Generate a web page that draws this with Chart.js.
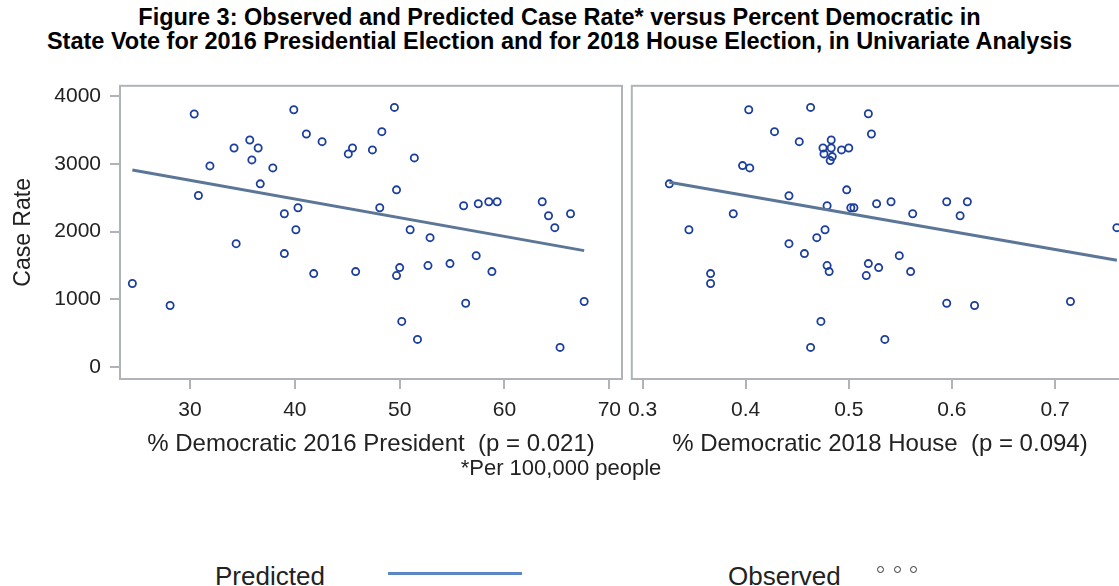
<!DOCTYPE html>
<html>
<head>
<meta charset="utf-8">
<script src="https://cdn.jsdelivr.net/npm/chart.js@4.4.1/dist/chart.umd.min.js"></script>
<style>
  html, body { margin: 0; padding: 0; background: #fff; overflow: hidden; }
  body { width: 1119px; height: 586px; position: relative; font-family: 'Liberation Sans', Arial, sans-serif; color: #222; }
  .title { position: absolute; left: 0; width: 1119px; text-align: center; font-family: 'Liberation Sans', Arial, sans-serif; font-weight: bold; font-size: 23.5px; color: #000; white-space: nowrap; }
  .panel { position: absolute; top: 80px; height: 390px; }
  .note { position: absolute; top: 455px; left: 0; width: 1122px; text-align: center; font-size: 22px; }
  .legtext { position: absolute; top: 561px; font-size: 26px; line-height: 30px; }
  .legline { position: absolute; left: 388px; top: 572px; width: 134px; height: 3px; background: #5b87c5; }
  .legdot { position: absolute; top: 566px; width: 5px; height: 5px; border: 1.3px solid #333; border-radius: 50%; }
</style>
</head>
<body>
<div class="title" style="top:4px">Figure 3: Observed and Predicted Case Rate* versus Percent Democratic in</div>
<div class="title" style="top:28px">State Vote for 2016 Presidential Election and for 2018 House Election, in Univariate Analysis</div>
<div class="panel" style="left:0; width:630px"><canvas id="left"></canvas></div>
<div class="panel" style="left:626px; width:520px"><canvas id="right"></canvas></div>
<div class="note">*Per 100,000 people</div>
<div class="legtext" style="left:215px">Predicted</div>
<div class="legline"></div>
<div class="legtext" style="left:728px">Observed</div>
<div class="legdot" style="left:877px"></div>
<div class="legdot" style="left:894px"></div>
<div class="legdot" style="left:910px"></div>
<script>
// % democratic 2016 president vs case rate
const presX = [24.5, 28.1, 30.4, 30.8, 31.9, 34.2, 34.4, 35.7, 36.5, 35.9,
  36.7, 37.9, 39.0, 39.0, 39.9, 40.3, 40.1, 41.1, 41.8, 42.6,
  49.5, 48.3, 45.5, 45.1, 47.4, 51.4, 49.7, 48.1, 45.8, 50.0,
  49.7, 51.0, 52.9, 52.7, 54.8, 50.2, 51.7, 56.1, 57.5, 58.5,
  59.3, 57.3, 58.8, 56.3, 63.6, 64.2, 64.8, 66.3, 67.6, 65.3];
const presY = [1231, 906, 3740, 2534, 2972, 3238, 1821, 3356, 3238, 3061,
  2707, 2943, 2264, 1674, 3804, 2353, 2028, 3445, 1378, 3331,
  3838, 3479, 3238, 3150, 3209, 3091, 2618, 2353, 1408, 1467,
  1349, 2028, 1910, 1497, 1526, 670, 404, 2382, 2412, 2441,
  2441, 1644, 1408, 940, 2441, 2235, 2058, 2264, 965, 286];

// % democratic 2018 house vs case rate
const houseX = [0.326, 0.345, 0.366, 0.366, 0.388, 0.397, 0.404, 0.403, 0.428, 0.452,
  0.442, 0.442, 0.457, 0.463, 0.473, 0.463, 0.469, 0.477, 0.479, 0.479,
  0.481, 0.475, 0.483, 0.483, 0.476, 0.484, 0.482, 0.493, 0.500, 0.498,
  0.502, 0.505, 0.519, 0.522, 0.527, 0.541, 0.519, 0.529, 0.517, 0.549,
  0.562, 0.560, 0.535, 0.595, 0.615, 0.608, 0.595, 0.622, 0.715, 0.760];
const houseY = [2707, 2028, 1378, 1231, 2264, 2977, 2943, 3804, 3479, 3331,
  2530, 1821, 1674, 3838, 670, 286, 1910, 2028, 2382, 1497,
  1408, 3238, 3356, 3238, 3150, 3110, 3051, 3209, 3238, 2618,
  2353, 2353, 3745, 3445, 2412, 2441, 1526, 1467, 1349, 1644,
  2264, 1408, 404, 2441, 2441, 2235, 940, 906, 965, 2058];

// fitted lines, end points
const presFitX = [24.5, 67.6];
const presFitY = [2913, 1718];
const houseFitX = [0.326, 0.760];
const houseFitY = [2731, 1575];

const presTicks = [30, 40, 50, 60, 70];
const houseTicks = [0.3, 0.4, 0.5, 0.6, 0.7];
const rateTicks = [0, 1000, 2000, 3000, 4000];

const pts = (xs, ys) => xs.map((x, i) => ({ x: x, y: ys[i] }));
const grey = '#b0b4b8';

const frame = {
  id: 'frame',
  afterDatasetsDraw(chart) {
    const { ctx, chartArea: a } = chart;
    ctx.save();
    ctx.strokeStyle = grey;
    ctx.lineWidth = 2;
    ctx.strokeRect(a.left, a.top, a.right - a.left, a.bottom - a.top);
    ctx.restore();
  }
};

function noPad(s) {
  s.paddingTop = 0; s.paddingBottom = 0; s.paddingLeft = 0; s.paddingRight = 0;
}

function makeChart(id, xs, ys, fx, fy, xTicks, xMin, xMax, xTitle, showY, pad) {
  return new Chart(document.getElementById(id), {
    type: 'scatter',
    data: {
      datasets: [{
        type: 'line',
        data: pts(fx, fy),
        borderColor: '#5c7698',
        borderWidth: 3,
        pointRadius: 0,
        fill: false
      }, {
        data: pts(xs, ys),
        pointStyle: 'circle',
        pointRadius: 3.6,
        borderWidth: 1.8,
        borderColor: '#1c3f9e',
        backgroundColor: 'rgba(0,0,0,0)'
      }]
    },
    options: {
      responsive: true,
      maintainAspectRatio: false,
      animation: false,
      layout: { padding: pad },
      plugins: { legend: { display: false }, tooltip: { enabled: false } },
      scales: {
        x: {
          type: 'linear',
          min: xMin,
          max: xMax,
          afterBuildTicks: s => { s.ticks = xTicks.map(v => ({ value: v })); },
          afterFit: s => { s.height = 91; noPad(s); },
          grid: { drawOnChartArea: false, drawTicks: true, tickLength: 10, color: grey, lineWidth: 2 },
          border: { display: false },
          ticks: { padding: 9, color: '#222', font: { family: 'Liberation Sans', size: 21 }, callback: v => String(v) },
          title: {
            display: true,
            text: xTitle,
            color: '#222',
            padding: { top: 0, bottom: 11 },
            font: { family: 'Liberation Sans', size: 24 }
          }
        },
        y: {
          display: showY,
          min: -182,
          max: 4158,
          afterBuildTicks: s => { s.ticks = rateTicks.map(v => ({ value: v })); },
          afterFit: s => { s.width = showY ? 120 : 0; noPad(s); },
          grid: { drawOnChartArea: false, drawTicks: true, tickLength: 10, color: grey, lineWidth: 2 },
          border: { display: false },
          ticks: { padding: 9, color: '#222', font: { family: 'Liberation Sans', size: 21 }, callback: v => String(v) },
          title: {
            display: true,
            text: 'Case Rate',
            color: '#222',
            padding: { top: 10, bottom: 0 },
            font: { family: 'Liberation Sans', size: 23 }
          }
        }
      }
    },
    plugins: [frame]
  });
}

makeChart('left', presX, presY, presFitX, presFitY, presTicks, 23.32, 71.21,
  '% Democratic 2016 President  (p = 0.021)', true, { top: 5, right: 8, left: 0, bottom: 0 });
makeChart('right', houseX, houseY, houseFitX, houseFitY, houseTicks, 0.2896, 0.7708,
  '% Democratic 2018 House  (p = 0.094)', false, { top: 5, right: 18, left: 5, bottom: 0 });
</script>
</body>
</html>
